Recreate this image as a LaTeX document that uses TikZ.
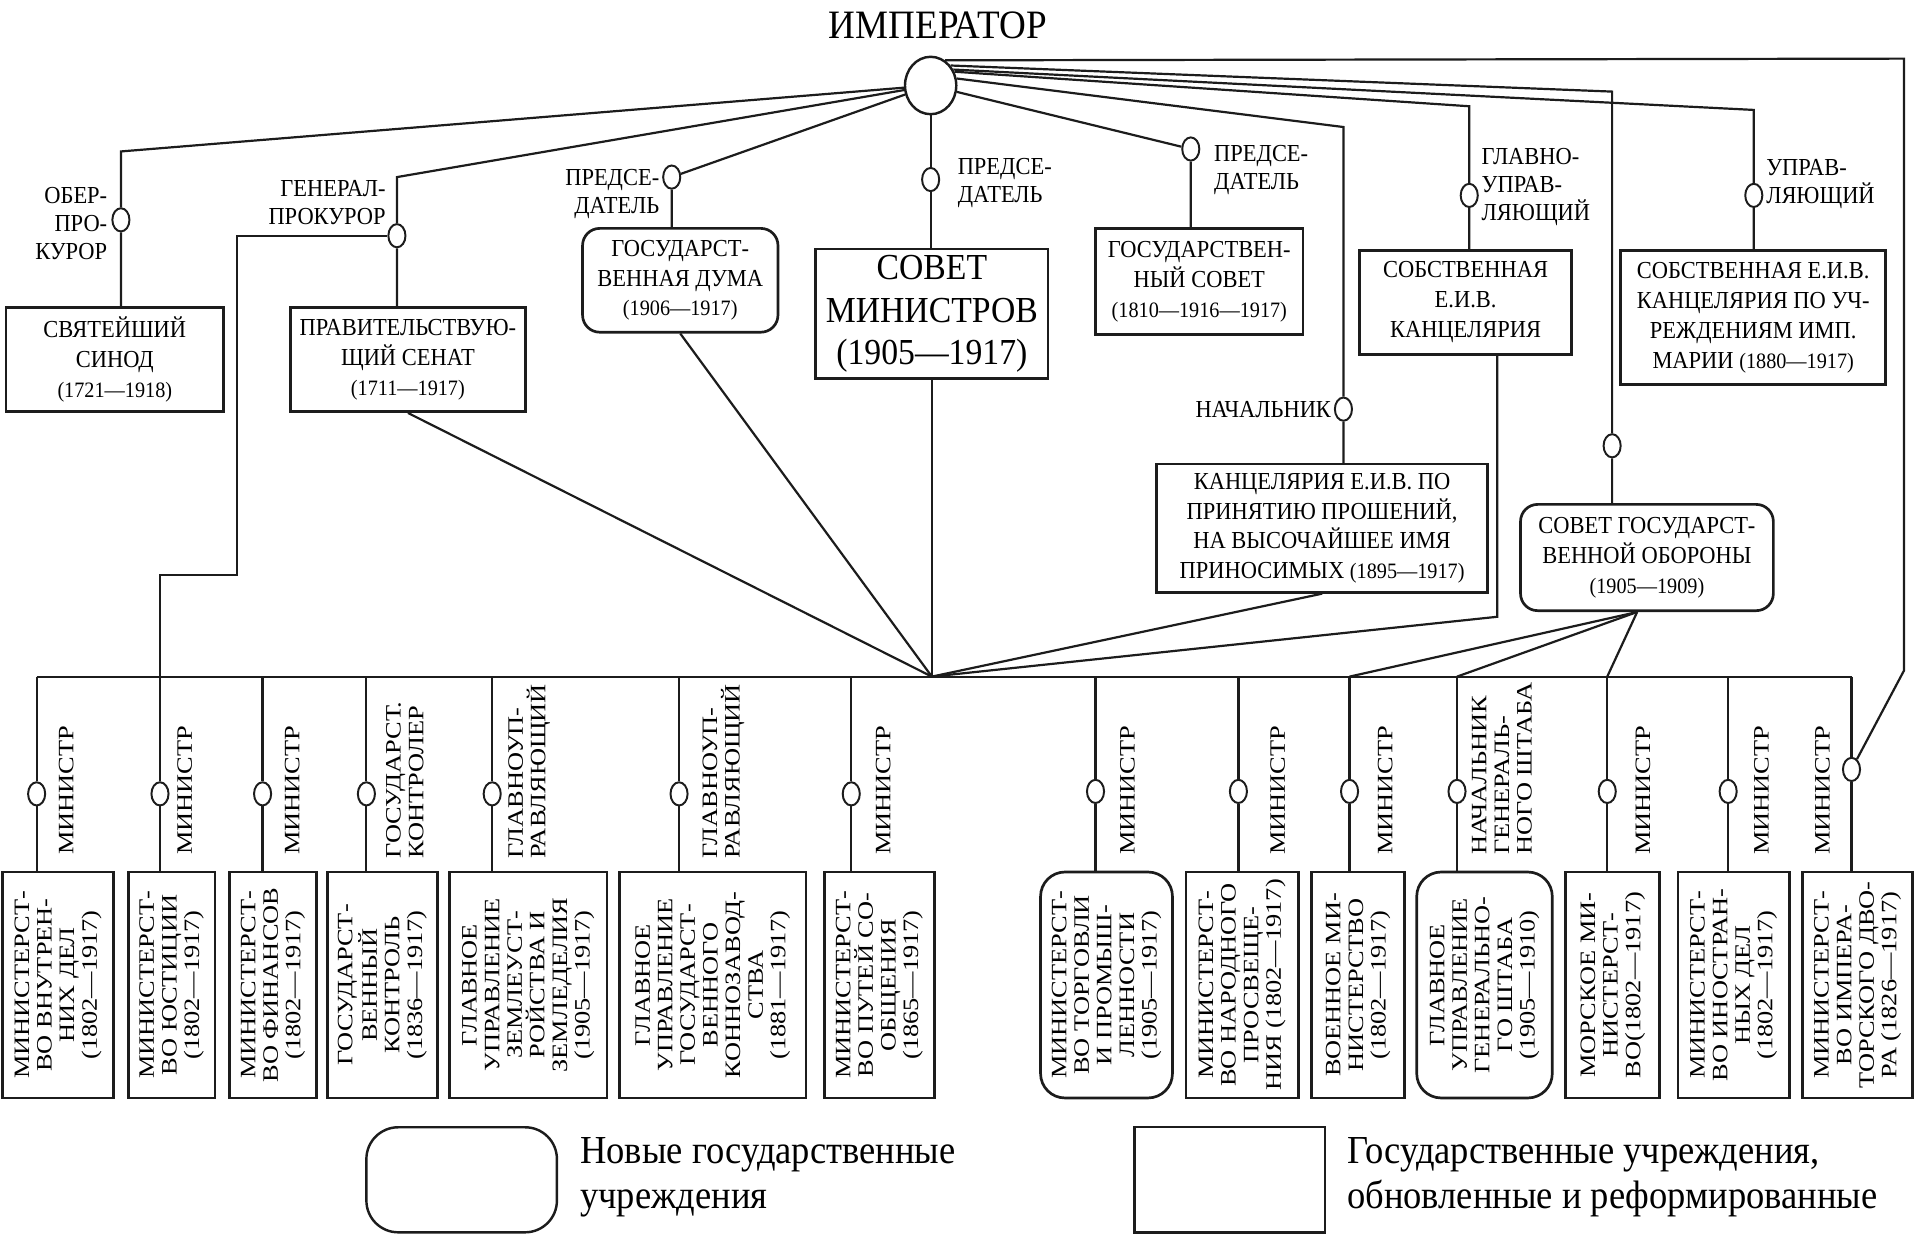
\documentclass[tikz,border=0pt]{standalone}
\usepackage{fontspec}
\setmainfont{Liberation Serif}[FakeStretch=0.92]
\newfontfamily\vertfont{Liberation Serif}[FakeStretch=1.2]
\usetikzlibrary{shapes.geometric, positioning, calc}
\definecolor{ink}{HTML}{1C1C1C}
\newcommand{\yrs}[1]{{\fontsize{18}{24}\selectfont #1}}

\begin{document}
\begin{tikzpicture}[x=1pt, y=-1pt,
    link/.style={draw=ink, line width=1.8pt},
    box/.style={draw=ink, line width=2.2pt, align=center, inner sep=2pt, font=\fontsize{20}{24.5}\selectfont},
    rbox/.style={box, rounded corners=14pt},
    knot/.style={draw=ink, ellipse, fill=white, line width=1.6pt, minimum width=14pt, minimum height=19pt, inner sep=0pt},
    role/.style={inner sep=0pt, font=\fontsize{20}{23}\selectfont},
    vbox/.style={box, rotate=90, minimum width=185pt, font=\vertfont\fontsize{18}{18.5}\selectfont},
    rvbox/.style={vbox, rounded corners=20pt},
    vrole/.style={rotate=90, anchor=north west, inner sep=0pt, align=left, font=\vertfont\fontsize{18}{18.5}\selectfont},
    keytext/.style={anchor=west, align=left, inner sep=0pt, font=\fontsize{32.5}{37}\selectfont}]
  \useasboundingbox (0,0) rectangle (1568,1012);

  % Император
  \node[inner sep=0pt, font=\fontsize{33}{33}\selectfont] (title) at (768,21) {ИМПЕРАТОР};
  \node[draw=ink, ellipse, line width=2pt, minimum width=42pt, minimum height=47pt, inner sep=0pt] (emp) at (762,70) {};

  % Верхний ряд учреждений
  \node[box, minimum width=178pt, minimum height=85pt] (synod) at (94,294.5) {СВЯТЕЙШИЙ\\СИНОД\\\yrs{(1721—1918)}};
  \node[box, minimum width=192pt, minimum height=85pt] (senate) at (334,294.5) {ПРАВИТЕЛЬСТВУЮ-\\ЩИЙ СЕНАТ\\\yrs{(1711—1917)}};
  \node[rbox, minimum width=160pt, minimum height=85pt] (duma) at (557,229.5) {ГОСУДАРСТ-\\ВЕННАЯ ДУМА\\\yrs{(1906—1917)}};
  \node[box, minimum width=190pt, minimum height=106pt, font=\fontsize{30}{34.5}\selectfont] (sovmin) at (763,257) {СОВЕТ\\МИНИСТРОВ\\(1905—1917)};
  \node[box, minimum width=170pt, minimum height=87pt] (gossovet) at (982,230.5) {ГОСУДАРСТВЕН-\\НЫЙ СОВЕТ\\\yrs{(1810—1916—1917)}};
  \node[box, minimum width=174pt, minimum height=85pt] (kanc) at (1200,247.5) {СОБСТВЕННАЯ\\Е.И.В.\\КАНЦЕЛЯРИЯ};
  \node[box, minimum width=217pt, minimum height=110pt] (maria) at (1435.5,260) {СОБСТВЕННАЯ Е.И.В.\\КАНЦЕЛЯРИЯ ПО УЧ-\\РЕЖДЕНИЯМ ИМП.\\МАРИИ \yrs{(1880—1917)}};
  \node[box, minimum width=271pt, minimum height=105pt] (prosh) at (1082.5,432.5) {КАНЦЕЛЯРИЯ Е.И.В. ПО\\ПРИНЯТИЮ ПРОШЕНИЙ,\\НА ВЫСОЧАЙШЕЕ ИМЯ\\ПРИНОСИМЫХ \yrs{(1895—1917)}};
  \node[rbox, minimum width=207pt, minimum height=87pt] (oborona) at (1348.5,456.5) {СОВЕТ ГОСУДАРСТ-\\ВЕННОЙ ОБОРОНЫ\\\yrs{(1905—1909)}};

  % Должности наверху
  \node[knot] (ksynod) at (99,180) {};
  \node[knot] (ksenate) at (325,193) {};
  \node[knot] (kduma) at (550,145) {};
  \node[knot] (ksovmin) at (762,147) {};
  \node[knot] (kgossovet) at (975,122) {};
  \node[knot] (kprosh) at (1100,335) {};
  \node[knot] (kkanc) at (1203,160) {};
  \node[knot] (koborona) at (1320,365) {};
  \node[knot] (kmaria) at (1436,160) {};

  \node[role, align=right, anchor=east] (lsynod) at (88,183) {ОБЕР-\\ПРО-\\КУРОР};
  \node[role, align=right, anchor=east] (lsenate) at (316,166) {ГЕНЕРАЛ-\\ПРОКУРОР};
  \node[role, align=right, anchor=east] (lduma) at (540,159) {ПРЕДСЕ-\\ДАТЕЛЬ};
  \node[role, align=left, anchor=west] (lsovmin) at (784,150) {ПРЕДСЕ-\\ДАТЕЛЬ};
  \node[role, align=left, anchor=west] (lgossovet) at (994,139) {ПРЕДСЕ-\\ДАТЕЛЬ};
  \node[role, anchor=east] (lprosh) at (1090,335) {НАЧАЛЬНИК};
  \node[role, align=left, anchor=west] (lkanc) at (1213,153) {ГЛАВНО-\\УПРАВ-\\ЛЯЮЩИЙ};
  \node[role, align=left, anchor=west] (lmaria) at (1446,151) {УПРАВ-\\ЛЯЮЩИЙ};

  % Нижний ряд: министерства и главные управления
  \node[vbox, minimum height=91pt] (vnutr) at (47.5,806.5) {МИНИСТЕРСТ-\\ВО ВНУТРЕН-\\НИХ ДЕЛ\\(1802—1917)};
  \node[vbox, minimum height=71pt] (just) at (140.5,806.5) {МИНИСТЕРСТ-\\ВО ЮСТИЦИИ\\(1802—1917)};
  \node[vbox, minimum height=71pt] (fin) at (223.5,806.5) {МИНИСТЕРСТ-\\ВО ФИНАНСОВ\\(1802—1917)};
  \node[vbox, minimum height=90pt] (kontrol) at (313,806.5) {ГОСУДАРСТ-\\ВЕННЫЙ\\КОНТРОЛЬ\\(1836—1917)};
  \node[vbox, minimum height=129pt] (zeml) at (432.5,806.5) {ГЛАВНОЕ\\УПРАВЛЕНИЕ\\ЗЕМЛЕУСТ-\\РОЙСТВА И\\ЗЕМЛЕДЕЛИЯ\\(1905—1917)};
  \node[vbox, minimum height=153pt] (konno) at (583.5,806.5) {ГЛАВНОЕ\\УПРАВЛЕНИЕ\\ГОСУДАРСТ-\\ВЕННОГО\\КОННОЗАВОД-\\СТВА\\(1881—1917)};
  \node[vbox, minimum height=90pt] (puti) at (720,806.5) {МИНИСТЕРСТ-\\ВО ПУТЕЙ СО-\\ОБЩЕНИЯ\\(1865—1917)};
  \node[rvbox, minimum height=108pt] (torg) at (906,806.5) {МИНИСТЕРСТ-\\ВО ТОРГОВЛИ\\И ПРОМЫШ-\\ЛЕННОСТИ\\(1905—1917)};
  \node[vbox, minimum height=92pt] (prosv) at (1017,806.5) {МИНИСТЕРСТ-\\ВО НАРОДНОГО\\ПРОСВЕЩЕ-\\НИЯ (1802—1917)};
  \node[vbox, minimum height=76pt] (voen) at (1112,806.5) {ВОЕННОЕ МИ-\\НИСТЕРСТВО\\(1802—1917)};
  \node[rvbox, minimum height=111pt] (genshtab) at (1215.5,806.5) {ГЛАВНОЕ\\УПРАВЛЕНИЕ\\ГЕНЕРАЛЬНО-\\ГО ШТАБА\\(1905—1910)};
  \node[vbox, minimum height=77pt] (morsk) at (1320.5,806.5) {МОРСКОЕ МИ-\\НИСТЕРСТ-\\ВО(1802—1917)};
  \node[vbox, minimum height=91pt] (inostr) at (1419.5,806.5) {МИНИСТЕРСТ-\\ВО ИНОСТРАН-\\НЫХ ДЕЛ\\(1802—1917)};
  \node[vbox, minimum height=90pt] (dvor) at (1521,806.5) {МИНИСТЕРСТ-\\ВО ИМПЕРА-\\ТОРСКОГО ДВО-\\РА (1826—1917)};

  \node[knot] (kvnutr) at (30,650) {};
  \node[knot] (kjust) at (131,650) {};
  \node[knot] (kfin) at (215,650) {};
  \node[knot] (kkontrol) at (300,650) {};
  \node[knot] (kzeml) at (403,650) {};
  \node[knot] (kkonno) at (556,650) {};
  \node[knot] (kputi) at (697,650) {};
  \node[knot] (ktorg) at (897,648) {};
  \node[knot] (kprosv) at (1014,648) {};
  \node[knot] (kvoen) at (1105,648) {};
  \node[knot] (kgenshtab) at (1193,648) {};
  \node[knot] (kmorsk) at (1316,648) {};
  \node[knot] (kinostr) at (1415,648) {};
  \node[knot] (kdvor) at (1516,630) {};

  \node[vrole] (lvnutr) at (48,700) {МИНИСТР};
  \node[vrole] (ljust) at (145,700) {МИНИСТР};
  \node[vrole] (lfin) at (233,700) {МИНИСТР};
  \node[vrole] (lkontrol) at (316,703) {ГОСУДАРСТ.\\КОНТРОЛЕР};
  \node[vrole] (lzeml) at (416,703) {ГЛАВНОУП-\\РАВЛЯЮЩИЙ};
  \node[vrole] (lkonno) at (575,703) {ГЛАВНОУП-\\РАВЛЯЮЩИЙ};
  \node[vrole] (lputi) at (717,700) {МИНИСТР};
  \node[vrole] (ltorg) at (917,700) {МИНИСТР};
  \node[vrole] (lprosv) at (1040,700) {МИНИСТР};
  \node[vrole] (lvoen) at (1128,700) {МИНИСТР};
  \node[vrole] (lgenshtab) at (1205,700) {НАЧАЛЬНИК\\ГЕНЕРАЛЬ-\\НОГО ШТАБА};
  \node[vrole] (lmorsk) at (1339,700) {МИНИСТР};
  \node[vrole] (linostr) at (1436,700) {МИНИСТР};
  \node[vrole] (ldvor) at (1486,700) {МИНИСТР};

  % Точки изломов
  \coordinate (csynod) at (99,124);
  \coordinate (csenate) at (325,145);
  \coordinate (cprosh) at (1100,104);
  \coordinate (ckanc) at (1203,87);
  \coordinate (coborona) at (1320,75);
  \coordinate (cmaria) at (1436,90);
  \coordinate (couter) at (1559,48);
  \coordinate (cdown) at (1559,549);
  \coordinate (cjog) at (194,471);
  \coordinate (hub) at (763,554);
  \coordinate (kdrop) at (1226,505);

  % Связи от императора
  \draw[link] (emp) -- (csynod) -- (ksynod) -- (ksynod |- synod.north);
  \draw[link] (emp) -- (csenate) -- (ksenate) -- (ksenate |- senate.north);
  \draw[link] (ksenate) -- (ksenate -| cjog) -- (cjog) -- (cjog -| kjust) -- (kjust);
  \draw[link] (emp) -- (kduma) -- (kduma |- duma.north);
  \draw[link] (emp) -- (ksovmin) -- (ksovmin |- sovmin.north);
  \draw[link] (emp) -- (kgossovet) -- (kgossovet |- gossovet.north);
  \draw[link] (emp.15) -- (cprosh) -- (kprosh) -- (kprosh |- prosh.north);
  \draw[link] (emp.30) -- (ckanc) -- (kkanc) -- (kkanc |- kanc.north);
  \draw[link] (emp.45) -- (coborona) -- (koborona) -- (koborona |- oborona.north);
  \draw[link] (emp.35) -- (cmaria) -- (kmaria) -- (kmaria |- maria.north);
  \draw[link] (emp.60) -- (couter) -- (cdown) -- (kdvor);

  % Сходящиеся линии к шине
  \draw[link] (senate.south) -- (hub);
  \draw[link] (duma.south) -- (hub);
  \draw[link] (sovmin.south) -- (hub);
  \draw[link] (prosh.south) -- (hub);
  \draw[link] (kdrop |- kanc.south) -- (kdrop) -- (hub);
  \draw[link] ([xshift=-8pt]oborona.south) -- (kvoen |- hub);
  \draw[link] ([xshift=-8pt]oborona.south) -- (kgenshtab |- hub);
  \draw[link] ([xshift=-8pt]oborona.south) -- (kmorsk |- hub);

  % Шина и отводы
  \draw[link] (kvnutr |- hub) -- (kdvor |- hub);
  \draw[link] (kvnutr |- hub) -- (kvnutr) -- (kvnutr |- vnutr.east);
  \draw[link] (kjust |- hub) -- (kjust) -- (kjust |- just.east);
  \draw[link] (kfin |- hub) -- (kfin) -- (kfin |- fin.east);
  \draw[link] (kkontrol |- hub) -- (kkontrol) -- (kkontrol |- kontrol.east);
  \draw[link] (kzeml |- hub) -- (kzeml) -- (kzeml |- zeml.east);
  \draw[link] (kkonno |- hub) -- (kkonno) -- (kkonno |- konno.east);
  \draw[link] (kputi |- hub) -- (kputi) -- (kputi |- puti.east);
  \draw[link] (ktorg |- hub) -- (ktorg) -- (ktorg |- torg.east);
  \draw[link] (kprosv |- hub) -- (kprosv) -- (kprosv |- prosv.east);
  \draw[link] (kvoen |- hub) -- (kvoen) -- (kvoen |- voen.east);
  \draw[link] (kgenshtab |- hub) -- (kgenshtab) -- (kgenshtab |- genshtab.east);
  \draw[link] (kmorsk |- hub) -- (kmorsk) -- (kmorsk |- morsk.east);
  \draw[link] (kinostr |- hub) -- (kinostr) -- (kinostr |- inostr.east);
  \draw[link] (kdvor |- hub) -- (kdvor) -- (kdvor |- dvor.east);

  % Легенда
  \node[draw=ink, line width=2pt, rounded corners=26pt, minimum width=156pt, minimum height=86pt] (newkey) at (378,966) {};
  \node[keytext] (newtext) at (475,964) {Новые государственные\\учреждения};
  \node[draw=ink, line width=2pt, minimum width=156pt, minimum height=86pt] (oldkey) at (1007,966) {};
  \node[keytext] (oldtext) at (1103,964) {Государственные учреждения,\\обновленные и реформированные};
\end{tikzpicture}
\end{document}
